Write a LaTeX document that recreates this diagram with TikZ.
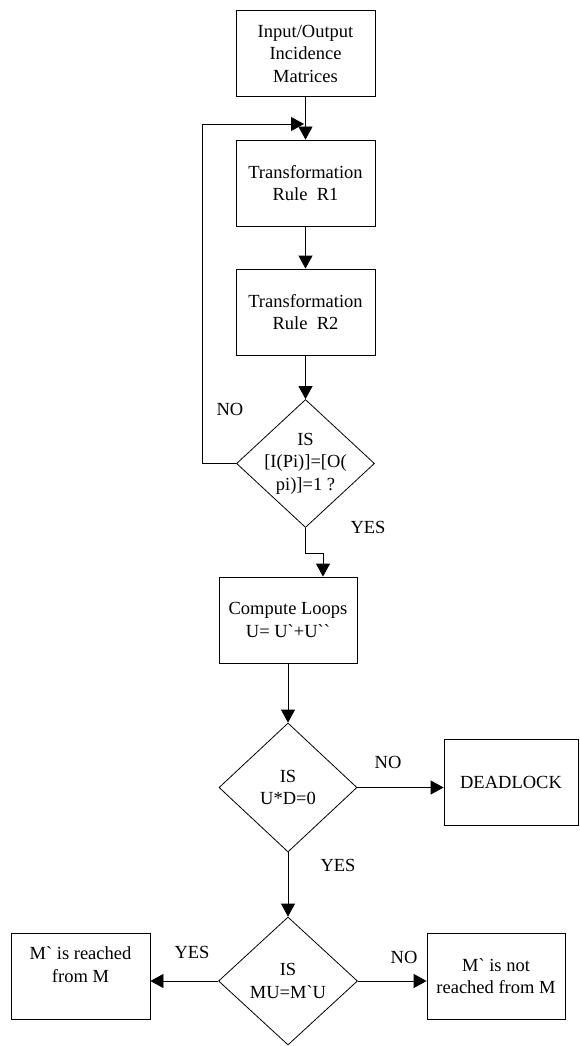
\documentclass[tikz,border=0pt]{standalone}
\usepackage{fontspec}
\setmainfont{Liberation Serif}
\usetikzlibrary{shapes.geometric,arrows.meta}
\newcommand{\dfont}{\fontsize{18.5}{22.5}\selectfont}
\newcommand{\bq}{\textasciigrave}
\tikzset{
  box/.style={draw, line width=0.8pt, minimum width=139pt, minimum height=86pt, align=center, inner sep=0pt, font=\dfont},
  dia/.style={draw, diamond, line width=0.8pt, minimum width=138pt, minimum height=128pt, inner sep=0pt},
  dtext/.style={align=center, font=\dfont, inner sep=0pt},
  lbl/.style={font=\dfont, inner sep=0pt},
  arr/.style={-{Triangle[length=13pt,width=14pt]}, line width=0.8pt},
}
\begin{document}
\begin{tikzpicture}[x=1pt,y=-1pt]
\useasboundingbox (0,0) rectangle (579,1046);
% boxes
\node[box] (b1) at (305.5,53.5) {Input/Output\\Incidence\\Matrices};
\node[box] (r1) at (305.5,183) {Transformation\\Rule\ \ R1};
\node[box] (r2) at (305.5,312) {Transformation\\Rule\ \ R2};
\node[dia] (d1) at (305.5,463.5) {};
\node[dtext] (d1t) at (d1.center) {IS\\{}[I(Pi)]=[O(\\pi)]=1 ?};
\node[box, minimum width=138pt] (c) at (288,620) {Compute Loops\\U= U\bq+U\bq\bq};
\node[dia, minimum height=129pt] (d2) at (288,787.5) {};
\node[dtext] (d2t) at (d2.center) {IS\\U*D=0};
\node[box, minimum width=134pt] (dl) at (511,782) {DEADLOCK};
\node[dia, minimum width=139pt] (d3) at (288,981) {};
\node[dtext] (d3t) at (d3.center) {IS\\MU=M\bq U};
\node[box] (lb) at (80.5,976) {M\bq\ is reached\\from M\\\mbox{}};
\node[box, minimum width=138pt] (rb) at (496,976) {M\bq\ is not\\reached from M};
% connectors
\draw[arr] (b1.south) -- (r1.north);
\draw[arr] (r1.south) -- (r2.north);
\draw[arr] (r2.south) -- (d1.north);
\coordinate (lp1) at (202,463.5);
\coordinate (lp2) at (202,124);
\coordinate (lp3) at (304,124);
\draw[arr] (d1.west) -- (lp1) -- (lp2) -- (lp3);
\coordinate (j1) at (323,553);
\draw[arr] (d1.south) |- (j1) -- (j1 |- c.north);
\draw[arr] (c.south) -- (d2.north);
\draw[arr] (d2.east) -- (d2.east -| dl.west);
\draw[arr] (d2.south) -- (d3.north);
\draw[arr] (d3.west) -- (d3.west -| lb.east);
\draw[arr] (d3.east) -- (d3.east -| rb.west);
% labels
\node[lbl] (n1) at (230,409) {NO};
\node[lbl] (y1) at (368,527) {YES};
\node[lbl] (n2) at (388,762) {NO};
\node[lbl] (y2) at (338,865) {YES};
\node[lbl] (y3) at (192,952) {YES};
\node[lbl] (n3) at (404,957) {NO};
\end{tikzpicture}
\end{document}
